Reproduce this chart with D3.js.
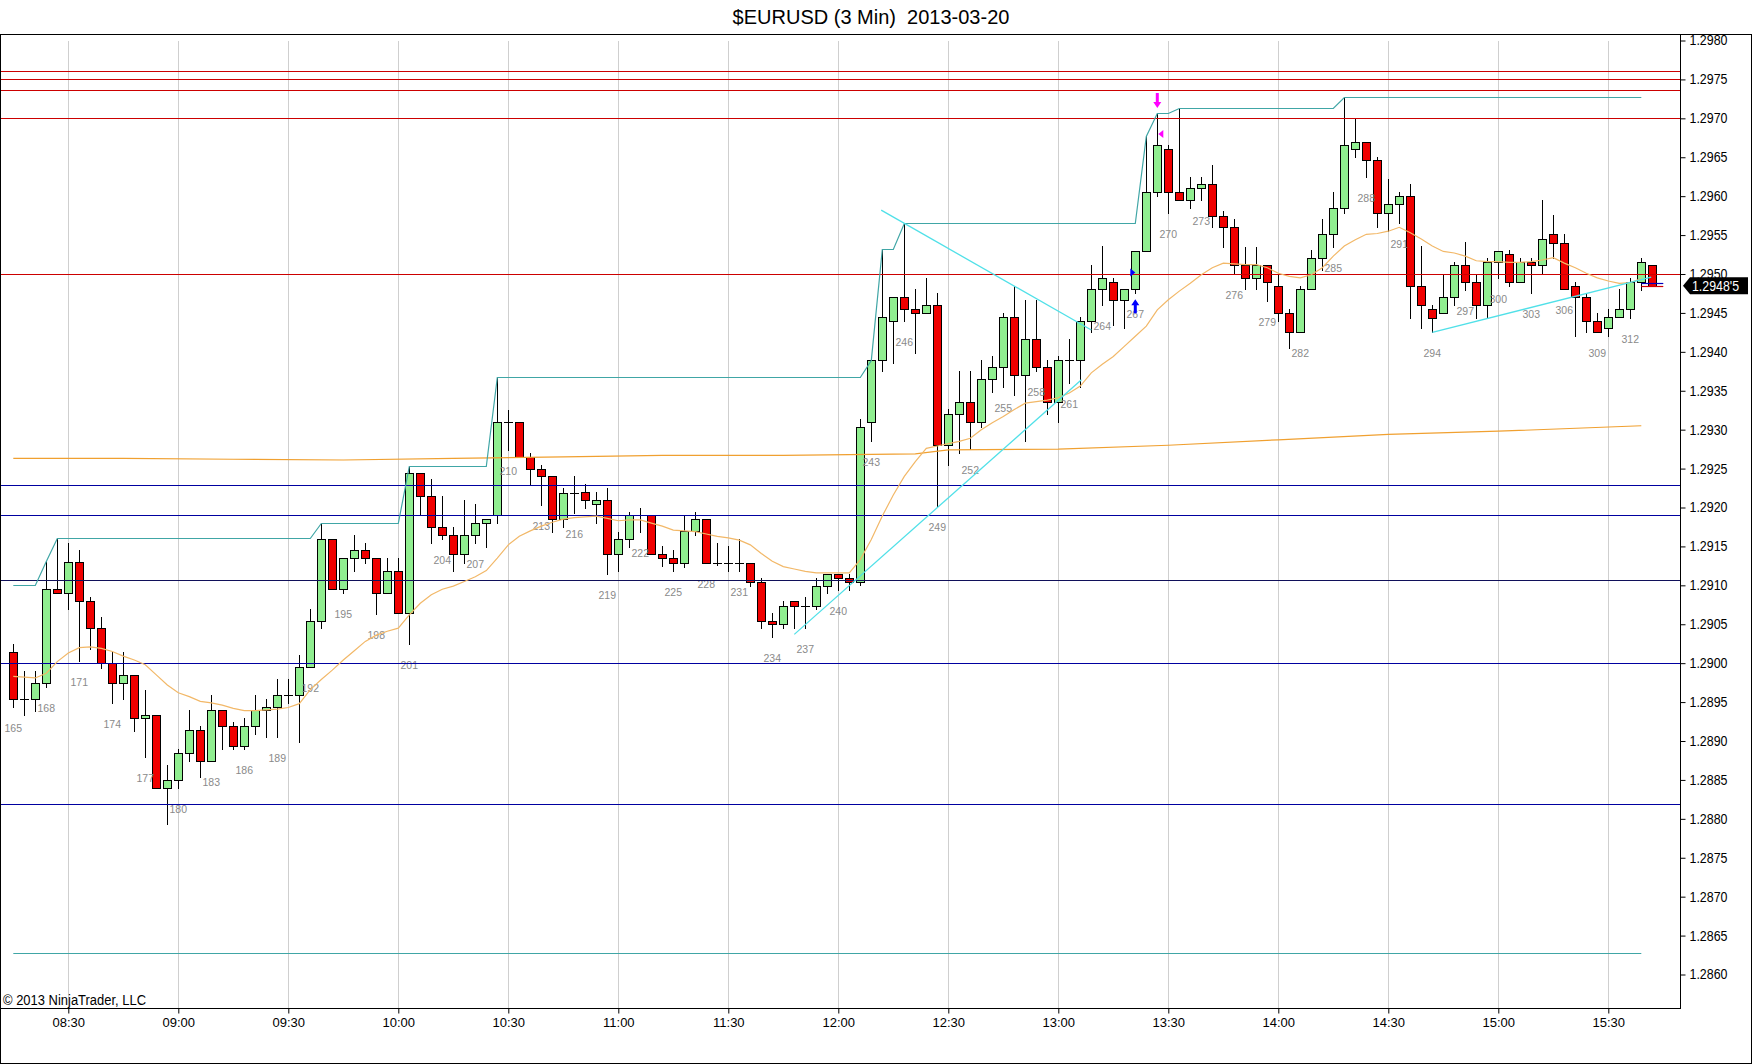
<!DOCTYPE html>
<html><head><meta charset="utf-8">
<script src="https://cdn.jsdelivr.net/npm/d3@7"></script>
<style>
body{margin:0;background:#fff}
svg{display:block}
text{font-family:"Liberation Sans",Arial,sans-serif}
</style>
</head><body>
<svg id="c" width="1752" height="1064"></svg>
<script>
// ---------------- DATA ----------------
const firstBar = 165, lastBar = 314;
const open = [
1.29014,1.28954,1.28954,1.28974,1.29095,1.29090,1.29130,1.29080,1.29045,1.29000,
1.28974,1.28985,1.28929,1.28934,1.28839,1.28850,1.28884,1.28914,1.28874,1.28940,
1.28919,1.28894,1.28919,1.28940,1.28944,1.28959,1.28959,1.28995,1.29054,1.29159,
1.29095,1.29135,1.29145,1.29135,1.29090,1.29119,1.29064,1.29244,1.29215,1.29175,
1.29165,1.29140,1.29165,1.29180,1.29191,1.29310,1.29310,1.29265,1.29249,1.29240,
1.29185,1.29219,1.29220,1.29204,1.29210,1.29140,1.29159,1.29191,1.29191,1.29140,
1.29135,1.29129,1.29170,1.29185,1.29129,1.29129,1.29129,1.29129,1.29104,1.29054,
1.29050,1.29080,1.29074,1.29074,1.29099,1.29114,1.29109,1.29104,1.29310,1.29390,
1.29440,1.29470,1.29455,1.29450,1.29460,1.29280,1.29320,1.29335,1.29310,1.29365,
1.29381,1.29445,1.29370,1.29416,1.29381,1.29336,1.29390,1.29390,1.29440,1.29481,
1.29490,1.29466,1.29481,1.29530,1.29605,1.29661,1.29605,1.29595,1.29610,1.29616,
1.29575,1.29560,1.29511,1.29495,1.29511,1.29485,1.29450,1.29425,1.29481,1.29520,
1.29551,1.29585,1.29661,1.29670,1.29646,1.29579,1.29590,1.29600,1.29485,1.29455,
1.29450,1.29471,1.29511,1.29490,1.29460,1.29516,1.29526,1.29490,1.29516,1.29511,
1.29551,1.29540,1.29484,1.29471,1.29440,1.29431,1.29445,1.29455,1.29490,1.29511];
const high = [
1.29025,1.28990,1.28990,1.29131,1.29161,1.29155,1.29146,1.29085,1.29059,1.29014,
1.29014,1.28985,1.28965,1.28934,1.28869,1.28890,1.28940,1.28919,1.28959,1.28940,
1.28925,1.28930,1.28959,1.28954,1.28980,1.28980,1.29010,1.29069,1.29180,1.29159,
1.29135,1.29165,1.29155,1.29135,1.29135,1.29135,1.29253,1.29244,1.29236,1.29215,
1.29175,1.29210,1.29205,1.29185,1.29368,1.29325,1.29310,1.29270,1.29254,1.29240,
1.29225,1.29241,1.29230,1.29220,1.29225,1.29169,1.29194,1.29200,1.29191,1.29150,
1.29146,1.29191,1.29194,1.29185,1.29154,1.29150,1.29159,1.29129,1.29109,1.29064,
1.29080,1.29080,1.29085,1.29109,1.29114,1.29114,1.29114,1.29314,1.29390,1.29532,
1.29470,1.29566,1.29481,1.29495,1.29476,1.29326,1.29375,1.29375,1.29390,1.29395,
1.29450,1.29484,1.29466,1.29466,1.29390,1.29395,1.29416,1.29445,1.29511,1.29536,
1.29495,1.29481,1.29530,1.29677,1.29707,1.29666,1.29713,1.29625,1.29625,1.29640,
1.29581,1.29571,1.29535,1.29535,1.29511,1.29500,1.29455,1.29485,1.29531,1.29571,
1.29605,1.29727,1.29700,1.29670,1.29650,1.29622,1.29605,1.29616,1.29536,1.29460,
1.29500,1.29516,1.29541,1.29500,1.29520,1.29530,1.29531,1.29520,1.29520,1.29595,
1.29576,1.29551,1.29490,1.29476,1.29450,1.29455,1.29481,1.29495,1.29520,1.29511];
const low = [
1.28944,1.28934,1.28939,1.28969,1.29090,1.29069,1.29003,1.29018,1.28994,1.28949,
1.28954,1.28913,1.28879,1.28839,1.28794,1.28839,1.28874,1.28854,1.28874,1.28890,
1.28890,1.28890,1.28909,1.28905,1.28905,1.28949,1.28899,1.28995,1.29045,1.29095,
1.29090,1.29119,1.29129,1.29063,1.29090,1.29064,1.29024,1.29191,1.29154,1.29159,
1.29119,1.29129,1.29155,1.29149,1.29180,1.29274,1.29265,1.29229,1.29203,1.29169,
1.29175,1.29193,1.29199,1.29180,1.29114,1.29119,1.29149,1.29169,1.29140,1.29125,
1.29119,1.29124,1.29165,1.29129,1.29126,1.29119,1.29119,1.29099,1.29045,1.29034,
1.29045,1.29045,1.29045,1.29069,1.29090,1.29094,1.29094,1.29100,1.29285,1.29375,
1.29386,1.29440,1.29399,1.29450,1.29202,1.29254,1.29270,1.29275,1.29304,1.29349,
1.29355,1.29345,1.29285,1.29375,1.29320,1.29310,1.29360,1.29355,1.29426,1.29460,
1.29435,1.29431,1.29476,1.29530,1.29600,1.29579,1.29595,1.29585,1.29595,1.29561,
1.29535,1.29500,1.29481,1.29481,1.29465,1.29440,1.29405,1.29425,1.29481,1.29505,
1.29535,1.29579,1.29650,1.29625,1.29560,1.29555,1.29565,1.29444,1.29431,1.29425,
1.29450,1.29460,1.29480,1.29444,1.29444,1.29495,1.29484,1.29490,1.29476,1.29500,
1.29520,1.29481,1.29420,1.29425,1.29425,1.29420,1.29445,1.29444,1.29480,1.29485];
const close = [
1.28954,1.28954,1.28974,1.29095,1.29090,1.29130,1.29080,1.29045,1.29000,1.28974,
1.28985,1.28929,1.28934,1.28839,1.28850,1.28884,1.28914,1.28874,1.28940,1.28919,
1.28894,1.28919,1.28940,1.28944,1.28959,1.28959,1.28995,1.29054,1.29159,1.29095,
1.29135,1.29145,1.29135,1.29090,1.29119,1.29064,1.29244,1.29215,1.29175,1.29165,
1.29140,1.29165,1.29180,1.29185,1.29310,1.29310,1.29265,1.29249,1.29240,1.29185,
1.29219,1.29219,1.29210,1.29210,1.29140,1.29159,1.29191,1.29191,1.29140,1.29135,
1.29129,1.29170,1.29185,1.29129,1.29129,1.29129,1.29129,1.29104,1.29054,1.29050,
1.29074,1.29074,1.29074,1.29099,1.29114,1.29109,1.29104,1.29304,1.29390,1.29445,
1.29470,1.29455,1.29450,1.29460,1.29280,1.29320,1.29335,1.29310,1.29365,1.29381,
1.29445,1.29370,1.29416,1.29381,1.29336,1.29390,1.29390,1.29440,1.29481,1.29495,
1.29466,1.29481,1.29530,1.29605,1.29666,1.29605,1.29595,1.29610,1.29616,1.29575,
1.29560,1.29511,1.29495,1.29511,1.29490,1.29450,1.29425,1.29481,1.29520,1.29551,
1.29585,1.29666,1.29670,1.29646,1.29579,1.29590,1.29600,1.29485,1.29460,1.29444,
1.29471,1.29511,1.29490,1.29460,1.29516,1.29530,1.29490,1.29516,1.29511,1.29545,
1.29540,1.29481,1.29471,1.29440,1.29425,1.29445,1.29455,1.29490,1.29515,1.29485];

// fast moving average, bars 165..313
const fastMA = [
1.28983,1.28982,1.28981,1.28987,1.29002,1.29013,1.29020,1.29021,1.29019,1.29015,
1.29009,1.29004,1.28998,1.28985,1.28972,1.28962,1.28957,1.28951,1.28949,1.28946,
1.28942,1.28939,1.28939,1.28940,1.28941,1.28943,1.28948,1.28966,1.28979,1.28991,
1.29004,1.29016,1.29028,1.29036,1.29041,1.29045,1.29062,1.29077,1.29088,1.29095,
1.29099,1.29105,1.29111,1.29119,1.29135,1.29152,1.29163,1.29170,1.29176,1.29181,
1.29185,1.29187,1.29188,1.29189,1.29186,1.29183,1.29184,1.29184,1.29180,1.29176,
1.29171,1.29170,1.29169,1.29166,1.29163,1.29161,1.29158,1.29152,1.29141,1.29131,
1.29124,1.29121,1.29118,1.29116,1.29116,1.29116,1.29116,1.29133,1.29159,1.29189,
1.29216,1.29240,1.29259,1.29276,1.29279,1.29282,1.29285,1.29289,1.29300,1.29309,
1.29317,1.29326,1.29334,1.29336,1.29338,1.29341,1.29347,1.29356,1.29373,1.29384,
1.29394,1.29407,1.29420,1.29433,1.29454,1.29467,1.29478,1.29488,1.29499,1.29508,
1.29514,1.29513,1.29512,1.29512,1.29508,1.29501,1.29497,1.29495,1.29499,1.29508,
1.29523,1.29536,1.29544,1.29551,1.29552,1.29555,1.29560,1.29553,1.29545,1.29536,
1.29529,1.29527,1.29523,1.29517,1.29516,1.29516,1.29515,1.29515,1.29516,1.29518,
1.29521,1.29514,1.29508,1.29501,1.29495,1.29491,1.29488,1.29489,1.29494];

// slow moving average (read at these bars)
const slowBars = [165,175,185,195,205,215,224,235,247,250,260,270,280,290,300,313];
const slowVals = [1.29263,1.29263,1.29262,1.29261,1.29263,1.29265,1.29267,1.29267,1.29269,1.29274,1.29275,1.29280,1.29287,1.29294,1.29298,1.29305];

// session high (step line) vertices
const hiBars = [165,167,168,169,192,193,200,201,208,209,242,243,244,245,246,267,268,269,270,271,285,286,313];
const hiVals = [1.29101,1.29101,1.29131,1.29161,1.29161,1.29180,1.29180,1.29253,1.29253,1.29368,1.29368,1.29390,1.29532,1.29532,1.29566,1.29566,1.29677,1.29707,1.29707,1.29713,1.29713,1.29727,1.29727];
// session low
const loBars = [165,313];
const loVals = [1.28627,1.28627];

// horizontal levels
const redLevels  = [1.29761,1.29750,1.29736,1.29700,1.29500];
const blueLevels = [1.29229,1.29191,1.29000,1.28819];
const darkLevels = [1.29107];

// trend lines [bar1, price1, bar2, price2]
const trendLines = [
  [236.0, 1.29037, 262.1, 1.29364],
  [243.9, 1.29582, 263.0, 1.29428],
  [294.0, 1.29425, 313.9, 1.29496]
];

// axis ticks
const priceTicks = [1.2860,1.2865,1.2870,1.2875,1.2880,1.2885,1.2890,1.2895,1.2900,1.2905,1.2910,1.2915,1.2920,1.2925,1.2930,1.2935,1.2940,1.2945,1.2950,1.2955,1.2960,1.2965,1.2970,1.2975,1.2980];
const timeBars   = [170,180,190,200,210,220,230,240,250,260,270,280,290,300,310];
const timeLabels = ["08:30","09:00","09:30","10:00","10:30","11:00","11:30","12:00","12:30","13:00","13:30","14:00","14:30","15:00","15:30"];

// signals
const longArrowBar = 267, shortArrowBar = 269;
const entryMarks = [ {bar:267, price:1.29502, dir:"right", color:"#0000ff"},
                     {bar:269, price:1.29680, dir:"left",  color:"#ff00ff"} ];
const lastPrice = 1.29485, lastPriceText = "1.2948'5";
const bidAsk = [ {price:1.29489, color:"#0000c0"}, {price:1.29485, color:"#d00000"} ];

const title = "$EURUSD (3 Min)  2013-03-20";
const copyright = "\u00a9 2013 NinjaTrader, LLC";

// ---------------- DRAW ----------------
const svg = d3.select("#c");
const W = 1752, H = 1064;
const plotL = 0, plotR = 1680, plotT = 34, plotB = 1008;
const bars = d3.range(firstBar, lastBar + 1);

const x = d3.scaleLinear().domain([165, 314]).range([13.3, 1652.3]);
const y = d3.scaleLinear().domain([1.2860, 1.2980]).range([974.5, 40.5]);
const cr = v => Math.round(v) + 0.5;

svg.append("rect").attr("width", W).attr("height", H).attr("fill", "#fff");

// gridlines
svg.append("g").selectAll("line").data(timeBars).join("line")
  .attr("x1", d => cr(x(d))).attr("x2", d => cr(x(d)))
  .attr("y1", 41).attr("y2", plotB)
  .attr("stroke", "#cfcfcf").attr("stroke-width", 1);

// candles
const cg = svg.append("g");
bars.forEach((b, k) => {
  const o = open[k], h = high[k], l = low[k], c = close[k];
  const cx = cr(x(b));
  cg.append("line").attr("x1", cx).attr("x2", cx)
    .attr("y1", Math.round(y(h))).attr("y2", Math.round(y(l)) + 1)
    .attr("stroke", "#000").attr("stroke-width", 1);
  if (Math.abs(c - o) < 1e-7) {
    cg.append("line").attr("x1", cx - 4.5).attr("x2", cx + 4.5)
      .attr("y1", cr(y(c))).attr("y2", cr(y(c)))
      .attr("stroke", "#000").attr("stroke-width", 1);
  } else {
    const top = cr(y(Math.max(o, c))), bot = cr(y(Math.min(o, c)));
    cg.append("rect").attr("x", cx - 4).attr("y", top)
      .attr("width", 8).attr("height", Math.max(1, bot - top))
      .attr("fill", c > o ? "#90ee90" : "#f00000")
      .attr("stroke", "#000").attr("stroke-width", 1);
  }
});

// bar number labels
svg.append("g").selectAll("text").data(bars.filter(b => b % 3 === 0)).join("text")
  .attr("x", d => x(d)).attr("y", d => y(low[d - firstBar]) + 25)
  .attr("text-anchor", "middle").attr("font-size", 10.5).attr("fill", "#8a8a8a")
  .text(d => d);

// horizontal levels
function hlevels(arr, color) {
  svg.append("g").selectAll("line").data(arr).join("line")
    .attr("x1", plotL).attr("x2", plotR)
    .attr("y1", d => cr(y(d))).attr("y2", d => cr(y(d)))
    .attr("stroke", color).attr("stroke-width", 1);
}
hlevels(redLevels, "#cc0000");
hlevels(blueLevels, "#0000a0");
hlevels(darkLevels, "#10105a");

// slow MA
const line = d3.line();
svg.append("path")
  .attr("d", line(slowBars.map((b, i) => [x(b), y(slowVals[i])])))
  .attr("fill", "none").attr("stroke", "#f0a030").attr("stroke-width", 1.2);

// session high / low
svg.append("path")
  .attr("d", line(hiBars.map((b, i) => [x(b), cr(y(hiVals[i]))])))
  .attr("fill", "none").attr("stroke", "#40a6a6").attr("stroke-width", 1.2);
svg.append("path")
  .attr("d", line(loBars.map((b, i) => [x(b), cr(y(loVals[i]))])))
  .attr("fill", "none").attr("stroke", "#40a6a6").attr("stroke-width", 1.2);

// fast MA
svg.append("path")
  .attr("d", line(fastMA.map((v, i) => [x(firstBar + i), y(v)])))
  .attr("fill", "none").attr("stroke", "#f2b868").attr("stroke-width", 1.2);

// trend lines
svg.append("g").selectAll("line").data(trendLines).join("line")
  .attr("x1", d => x(d[0])).attr("y1", d => y(d[1]))
  .attr("x2", d => x(d[2])).attr("y2", d => y(d[3]))
  .attr("stroke", "#50e0e8").attr("stroke-width", 1.3);

// signal arrows
{
  const bx = x(longArrowBar), tip = y(low[longArrowBar - firstBar]) + 6.5;
  svg.append("path")
    .attr("d", `M${bx},${tip} L${bx+4},${tip+6} L${bx+1.5},${tip+6} L${bx+1.5},${tip+14} L${bx-1.5},${tip+14} L${bx-1.5},${tip+6} L${bx-4},${tip+6} Z`)
    .attr("fill", "#0000ff");
  const sx = x(shortArrowBar), stip = y(high[shortArrowBar - firstBar]) - 5;
  svg.append("path")
    .attr("d", `M${sx},${stip} L${sx+4},${stip-6} L${sx+1.5},${stip-6} L${sx+1.5},${stip-15} L${sx-1.5},${stip-15} L${sx-1.5},${stip-6} L${sx-4},${stip-6} Z`)
    .attr("fill", "#ff00ff");
}
entryMarks.forEach(m => {
  const mx = x(m.bar), my = y(m.price);
  const d = m.dir === "right"
    ? `M${mx},${my} L${mx-5},${my-4} L${mx-5},${my+4} Z`
    : `M${mx+1},${my} L${mx+6},${my-4} L${mx+6},${my+4} Z`;
  svg.append("path").attr("d", d).attr("fill", m.color);
});

// bid / ask marks at last bar
svg.append("g").selectAll("line").data(bidAsk).join("line")
  .attr("x1", x(lastBar) - 11).attr("x2", x(lastBar) + 11)
  .attr("y1", d => cr(y(d.price))).attr("y2", d => cr(y(d.price)))
  .attr("stroke", d => d.color).attr("stroke-width", 1.2);

// frame
const frame = svg.append("g").attr("stroke", "#000").attr("stroke-width", 1).attr("fill", "none");
frame.append("line").attr("x1", 0).attr("x2", W).attr("y1", 34.5).attr("y2", 34.5);
frame.append("line").attr("x1", 0.5).attr("x2", 0.5).attr("y1", 34).attr("y2", H);
frame.append("line").attr("x1", W - 0.5).attr("x2", W - 0.5).attr("y1", 34).attr("y2", H);
frame.append("line").attr("x1", 0).attr("x2", W).attr("y1", H - 0.5).attr("y2", H - 0.5);
frame.append("line").attr("x1", 0).attr("x2", plotR + 1).attr("y1", plotB + 0.5).attr("y2", plotB + 0.5);
frame.append("line").attr("x1", plotR + 0.5).attr("x2", plotR + 0.5).attr("y1", 34).attr("y2", plotB + 1);

// right price axis
const ya = svg.append("g").attr("transform", `translate(${plotR + 0.5},0)`)
  .call(d3.axisRight(y).tickValues(priceTicks).tickFormat(d3.format(".4f")).tickSize(5).tickPadding(4));
ya.select(".domain").remove();
ya.selectAll("line").attr("stroke", "#000");
ya.selectAll("text").attr("font-size", 14).attr("fill", "#000")
  .attr("font-family", "Liberation Sans, Arial, sans-serif")
  .attr("textLength", 38).attr("lengthAdjust", "spacingAndGlyphs");

// bottom time axis
const xa = svg.append("g").attr("transform", `translate(0,${plotB + 0.5})`)
  .call(d3.axisBottom(x).tickValues(timeBars).tickFormat((d, i) => timeLabels[i]).tickSize(5).tickPadding(4));
xa.select(".domain").remove();
xa.selectAll("line").attr("stroke", "#000");
xa.selectAll("text").attr("font-size", 13).attr("fill", "#000")
  .attr("font-family", "Liberation Sans, Arial, sans-serif");

// last price box
{
  const ly = y(lastPrice);
  svg.append("path")
    .attr("d", `M${plotR + 3},${ly} L${plotR + 10},${ly - 8.5} L${plotR + 68},${ly - 8.5} L${plotR + 68},${ly + 8.5} L${plotR + 10},${ly + 8.5} Z`)
    .attr("fill", "#000");
  svg.append("text").attr("x", plotR + 12).attr("y", ly + 5)
    .attr("font-size", 14).attr("fill", "#fff")
    .attr("textLength", 47).attr("lengthAdjust", "spacingAndGlyphs")
    .text(lastPriceText);
}

// title and copyright
svg.append("text").attr("x", 871).attr("y", 24).attr("text-anchor", "middle")
  .attr("font-size", 20).attr("fill", "#000").style("white-space", "pre")
  .text(title);
svg.append("text").attr("x", 3).attr("y", 1005)
  .attr("font-size", 14).attr("fill", "#000")
  .attr("textLength", 143).attr("lengthAdjust", "spacingAndGlyphs")
  .text(copyright);
</script>
</body></html>
